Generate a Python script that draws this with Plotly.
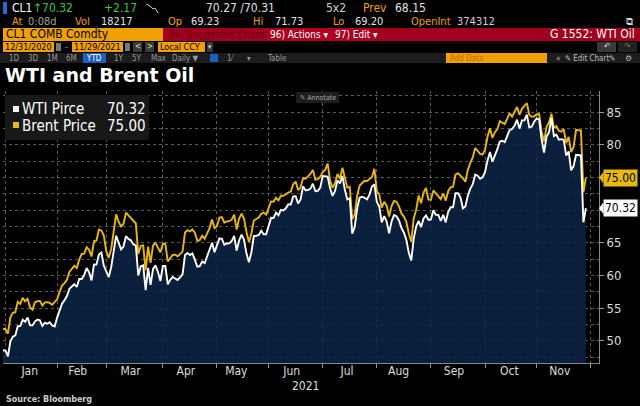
import pandas as pd
import plotly.graph_objects as go

# ---------------- data (daily, weekdays; holidays carry previous close) ----------------
dates = pd.bdate_range("2020-12-31", "2021-11-29")

wti = [48.52,
       # Jan
       48.52, 47.62, 49.93, 50.63, 50.83, 52.24, 52.25, 53.21, 52.91, 53.57, 52.36,
       52.36, 52.98, 53.24, 53.13, 52.27, 52.77, 52.61, 52.85, 52.34, 52.20,
       # Feb
       53.55, 54.76, 55.69, 56.23, 56.85, 57.97, 58.36, 58.68, 58.24, 59.47,
       59.47, 60.05, 61.14, 60.52, 59.24, 61.70, 61.67, 63.22, 63.53, 61.50,
       # Mar
       60.64, 59.75, 61.28, 63.83, 66.09, 65.05, 64.01, 64.44, 66.02, 65.61,
       65.39, 64.80, 64.60, 60.00, 61.42, 61.55, 57.76, 61.18, 58.56, 60.97,
       61.56, 60.55, 59.16,
       # Apr
       61.45, 61.45, 58.65, 59.33, 59.77, 59.60, 59.32, 59.70, 60.18, 63.15, 63.46,
       63.13, 63.38, 62.44, 61.35, 61.43, 62.14, 61.91, 62.94, 63.86, 65.01, 63.58,
       # May
       64.49, 65.69, 65.63, 64.71, 64.90, 64.92, 65.28, 66.08, 63.82, 65.37,
       66.27, 65.49, 63.36, 62.05, 63.58, 66.05, 66.07, 66.21, 66.85, 66.32, 66.32,
       # Jun
       67.72, 68.83, 68.81, 69.62, 69.23, 70.05, 69.96, 70.29, 70.91, 70.88, 72.12,
       72.15, 71.04, 71.64, 73.66, 73.06, 73.08, 73.30, 74.05, 72.91, 72.98, 73.47,
       # Jul
       75.23, 75.16, 75.16, 73.37, 72.20, 72.94, 74.56, 74.10, 75.25, 73.13, 71.65,
       71.81, 66.42, 67.42, 70.30, 71.91, 72.07, 71.91, 71.65, 72.39, 73.62, 73.95,
       # Aug
       71.26, 70.56, 68.15, 69.09, 68.28, 66.48, 68.29, 69.25, 69.09, 68.44, 67.29,
       66.59, 65.46, 63.50, 62.32, 65.64, 67.54, 68.36, 67.42, 68.74, 69.21, 68.50,
       # Sep
       68.59, 69.99, 69.29, 69.29, 68.35, 69.30, 68.14, 69.72, 70.45, 70.46, 72.61,
       72.61, 71.97, 70.29, 70.56, 72.23, 73.30, 73.98, 75.45, 75.29, 74.83, 75.03,
       # Oct
       75.88, 77.62, 78.93, 77.43, 78.30, 79.35, 80.52, 80.64, 80.44, 81.31, 82.28,
       82.44, 82.96, 83.87, 82.50, 83.76, 83.76, 84.65, 82.66, 82.81, 83.57,
       # Nov
       84.05, 83.91, 80.86, 78.81, 81.27, 81.93, 84.15, 81.34, 81.59, 80.79, 80.88,
       80.76, 78.36, 79.01, 76.10, 76.75, 78.50, 78.39, 78.39, 68.15, 70.32]

brent = [51.80,
         # Jan
         51.80, 51.09, 53.60, 54.30, 54.38, 55.99, 55.66, 56.58, 56.06, 56.42, 55.10,
         54.75, 55.90, 56.08, 56.10, 55.41, 55.88, 55.91, 55.81, 55.53, 55.88,
         # Feb
         56.35, 57.46, 58.46, 58.84, 59.34, 60.56, 61.09, 61.47, 61.14, 62.43,
         63.30, 63.35, 64.34, 63.93, 62.91, 65.24, 65.37, 67.04, 66.88, 66.13,
         # Mar
         63.69, 62.70, 64.07, 66.74, 69.36, 68.24, 67.52, 67.90, 69.63, 69.22,
         68.88, 68.39, 68.00, 63.28, 64.53, 64.62, 60.79, 64.41, 61.95, 64.57,
         64.98, 64.14, 63.54,
         # Apr
         64.86, 64.86, 62.15, 62.74, 63.16, 63.20, 62.95, 63.28, 63.67, 66.58, 66.94,
         66.77, 67.05, 66.57, 65.32, 65.40, 66.11, 65.65, 66.42, 67.27, 68.56, 67.25,
         # May
         67.56, 68.88, 68.96, 68.09, 68.28, 68.32, 68.55, 69.32, 67.05, 68.71,
         69.46, 68.71, 66.66, 65.11, 66.44, 68.46, 68.65, 68.87, 69.46, 69.63, 69.32,
         # Jun
         70.25, 71.35, 71.31, 71.89, 71.49, 72.22, 72.22, 72.52, 72.69, 72.86, 73.99,
         74.39, 73.08, 73.51, 74.90, 74.81, 75.19, 75.56, 76.18, 74.68, 74.76, 75.13,
         # Jul
         75.84, 76.17, 77.16, 74.53, 73.43, 74.12, 75.55, 74.83, 76.49, 74.76, 73.47,
         73.59, 68.62, 69.35, 72.23, 73.79, 74.10, 74.50, 74.48, 74.74, 75.05, 76.33,
         # Aug
         72.89, 72.41, 70.38, 71.29, 70.70, 69.04, 70.63, 71.44, 71.31, 70.59, 69.51,
         69.03, 68.23, 66.45, 65.18, 68.75, 70.05, 72.25, 71.07, 72.70, 73.41, 71.63,
         # Sep
         71.59, 73.03, 72.61, 72.22, 71.69, 72.60, 71.45, 72.92, 73.51, 73.60, 75.46,
         75.67, 75.34, 74.92, 74.36, 76.19, 77.25, 78.09, 79.53, 79.09, 78.64, 78.52,
         # Oct
         79.28, 81.26, 82.56, 81.08, 81.95, 82.39, 83.65, 83.42, 83.18, 84.00, 84.86,
         84.33, 85.08, 85.82, 84.61, 85.53, 85.99, 86.40, 84.58, 84.32, 84.38,
         # Nov
         84.71, 84.72, 81.99, 80.54, 82.74, 83.43, 84.78, 82.64, 82.87, 82.17, 82.05,
         82.43, 80.28, 81.24, 78.89, 79.70, 82.31, 82.25, 82.22, 72.72, 75.00]

series_names = ["WTI Pirce", "Brent Price"]
title_text = "WTI and Brent Oil"
year_label = "2021"
source_text = "Source: Bloomberg"
y_tick_values = [50, 55, 60, 65, 70, 75, 80, 85]

# ---------------- styling ----------------
W, H = 640, 406
ML, MR, MT, MB = 3, 41, 91, 43
PW, PH = W - ML - MR, H - MT - MB
NARROW = "Liberation Sans Narrow, DejaVu Sans Condensed, Roboto, sans-serif"
BOLD = "DejaVu Sans, Verdana, sans-serif"
ORANGE = "#f0a000"
YELLOW = "#e8b90c"
NAVY = "rgba(11,37,72,0.84)"
GRID = "#5a5a5a"


def px(x):
    return (x - ML) / PW


def py(y):
    return (H - MB - y) / PH


shapes = []
annotations = []


def rect(x0, y0, x1, y1, color):
    shapes.append(dict(type="rect", xref="paper", yref="paper",
                       x0=px(x0), x1=px(x1), y0=py(y1), y1=py(y0),
                       fillcolor=color, line=dict(width=0), layer="above"))


def text(x, y, s, color="#e0e0e0", size=11, anchor="left", family=NARROW):
    annotations.append(dict(xref="paper", yref="paper", x=px(x), y=py(y), text=s,
                            showarrow=False, xanchor=anchor, yanchor="middle",
                            borderpad=0,
                            font=dict(color=color, size=size, family=family)))


# Row 1
rect(3, 2, 7, 14, "#1f6fd6")
text(11, 7.5, "CL1", "#ffffff", 12)
text(32, 7.5, "↑70.32", "#36c943", 12)
text(103, 7.5, "+2.17", "#36c943", 12)
shapes.append(dict(type="path", xref="paper", yref="paper",
                   path=f"M {px(146)} {py(4)} L {px(150)} {py(6)} L {px(153)} {py(9)} L {px(155)} {py(8)} L {px(158)} {py(13)}",
                   line=dict(color="#cccccc", width=1)))
text(205, 7.5, "70.27 /70.31", "#e0e0e0", 12)
text(325, 7.5, "5x2", "#d0d0d0", 12)
text(362, 7.5, "Prev", ORANGE, 12)
text(394, 7.5, "68.15", "#e0e0e0", 12)
# Row 2
text(11, 21, "At", ORANGE, 11)
text(27, 21, "0:08d", "#a0a0a0", 11)
text(74, 21, "Vol", ORANGE, 11)
text(100, 21, "18217", "#e0e0e0", 11)
text(167, 21, "Op", ORANGE, 11)
text(190, 21, "69.23", "#e0e0e0", 11)
text(252, 21, "Hi", ORANGE, 11)
text(274, 21, "71.73", "#e0e0e0", 11)
text(332, 21, "Lo", ORANGE, 11)
text(354, 21, "69.20", "#e0e0e0", 11)
text(410, 21, "OpenInt", ORANGE, 11)
text(456, 21, "374312", "#d0d0d0", 11)
text(630, 21, "⧉", "#dddddd", 10, "center", BOLD)
# Row 3
rect(3, 28, 163, 41, ORANGE)
rect(163, 28, 640, 41, "#a3001e")
rect(266, 28, 331, 41, "#b0001f")
rect(332, 28, 377, 41, "#b0001f")
text(5, 34.5, "CL1 COMB Comdty", "#000000", 12)
text(168, 34.5, "96) Suggested Charts", "#6b0613", 10)
text(269, 34.5, "96) Actions ▾", "#ffffff", 10)
text(334, 34.5, "97) Edit ▾", "#ffffff", 10)
text(636, 34.5, "G 1552: WTI Oil", "#ffffff", 12, "right")
# Row 4
rect(3, 42, 54, 52, ORANGE)
text(4, 47, "12/31/2020", "#000000", 9)
rect(56, 43, 61, 51, "#777777")
text(64, 47, "-", "#aaaaaa", 9)
rect(72, 42, 123, 52, ORANGE)
text(73, 47, "11/29/2021", "#000000", 9)
rect(125, 43, 130, 51, "#777777")
rect(133, 42, 142, 52, "#3a3a3a")
text(137.5, 47, "<", "#dddddd", 8, "center")
rect(145, 42, 154, 52, "#3a3a3a")
text(149.5, 47, ">", "#dddddd", 8, "center")
rect(158, 42, 205, 52, ORANGE)
text(159, 47, "Local CCY", "#000000", 9)
rect(207, 42, 213, 52, "#3a3a3a")
text(210, 47, "▾", "#dddddd", 7, "center")
rect(597, 42, 616, 52, "#3a3a3a")
text(606.5, 47, "↶", "#dddddd", 8, "center", BOLD)
rect(618, 42, 637, 52, "#222222")
text(627.5, 47, "↷", "#777777", 8, "center", BOLD)
# Row 5
rect(0, 53, 640, 63, "#1c1c1c")
for lab, xx in [("1D", 8), ("3D", 27), ("1M", 46), ("6M", 65), ("1Y", 113),
                ("5Y", 131), ("Max", 150), ("Daily ▼", 171), ("1⁄", 226), ("▾", 246), ("Table", 266)]:
    text(xx, 58, lab, "#9a9a9a", 8)
rect(83, 53, 106, 63, "#1c5fc4")
text(94.5, 58, "YTD", "#ffffff", 8, "center")
rect(210, 54, 218, 62, "#1c5fc4")
rect(446, 53, 547, 63, ORANGE)
text(449, 58, "Add Data", "#c46800", 8)
text(555, 58, "«  ✎ Edit Chart", "#bbbbbb", 8)
text(612, 58, "✎", "#bbbbbb", 8, "center", BOLD)
text(628, 58, "⚙", "#bbbbbb", 8, "center", BOLD)

# Title
text(4, 75, "<b>" + title_text + "</b>", "#ffffff", 19, "left", "DejaVu Sans")

# Annotate button
rect(296, 92, 339, 103, "#1e1e1e")
text(299, 97.5, "✎ Annotate", "#aaaaaa", 7)

# Legend box
rect(5, 95, 149, 140, "#181818")
rect(13, 106, 19, 112, "#ffffff")
rect(13, 122, 19, 128, YELLOW)
text(21, 109, series_names[0], "#ffffff", 15)
text(106, 109, f"{wti[-1]:.2f}", "#ffffff", 15)
text(21, 126, series_names[1], "#ffffff", 15)
text(106, 126, f"{brent[-1]:.2f}", "#ffffff", 15)

# Bottom texts
text(305, 386, year_label, "#dddddd", 12, "center")
text(5, 399, "<b>" + source_text + "</b>", "#cccccc", 8, "left", "DejaVu Sans")

# Last-value labels on the right axis (they cover the nearby tick labels)
last_vals = [brent[-1], wti[-1]]
for val, col in [(brent[-1], YELLOW), (wti[-1], "#ffffff")]:
    annotations.append(dict(xref="paper", yref="y", x=px(603), y=val, text=f"{val:.2f}",
                            showarrow=False, xanchor="left", yanchor="middle",
                            bgcolor=col, borderpad=1,
                            font=dict(color="#000000", size=12, family=NARROW)))
    shapes.append(dict(type="path", xref="paper", yref="y",
                       path=f"M {px(599)} {val} L {px(603.5)} {val + 0.9} L {px(603.5)} {val - 0.9} Z",
                       fillcolor=col, line=dict(width=0), layer="above"))
y_tick_text = ["" if any(abs(t - v) < 2.0 for v in last_vals) else str(t) for t in y_tick_values]

# ---------------- figure ----------------
fig = go.Figure()
fig.add_trace(go.Scatter(x=dates, y=wti, mode="lines", line=dict(width=0, color="#ffffff"),
                         fill="tozeroy", fillcolor=NAVY, hoverinfo="skip", showlegend=False))
fig.add_trace(go.Scatter(x=dates, y=brent, mode="lines", name=series_names[1],
                         line=dict(color=YELLOW, width=1.9), showlegend=False))
fig.add_trace(go.Scatter(x=dates, y=wti, mode="lines", name=series_names[0],
                         line=dict(color="#ffffff", width=1.9), showlegend=False))

fig.update_layout(
    width=W, height=H,
    margin=dict(l=ML, r=MR, t=MT, b=MB),
    paper_bgcolor="#000000", plot_bgcolor="#000000",
    shapes=shapes, annotations=annotations,
    showlegend=False,
    xaxis=dict(type="date", range=["2020-12-31", "2021-12-06 08:00"],
               rangebreaks=[dict(bounds=["sat", "mon"])],
               dtick="M1", tick0="2021-01-01", ticklabelmode="period", tickformat="%b",
               ticks="outside", ticklen=4, tickcolor="#999999",
               ticklabelstandoff=-7, ticklabelshift=-4,
               showline=True, linecolor="#888888", linewidth=1,
               showgrid=True, gridcolor=GRID, griddash="dot", gridwidth=1,
               zeroline=False, fixedrange=True,
               tickfont=dict(color="#dddddd", size=12, family=NARROW)),
    yaxis=dict(range=[46.6, 88.26], side="right",
               tickmode="array", tickvals=y_tick_values, ticktext=y_tick_text,
               ticks="outside", ticklen=4, tickcolor="#999999",
               showline=True, linecolor="#888888", linewidth=1,
               showgrid=True, gridcolor=GRID, griddash="dot", gridwidth=1,
               minor=dict(dtick=2.5, tick0=0, showgrid=True, gridcolor=GRID, griddash="dot", ticks=""),
               zeroline=False, fixedrange=True,
               tickfont=dict(color="#dddddd", size=13, family=NARROW)),
)

fig.write_html("out.html", config={"displayModeBar": False},
               post_script="document.body.style.margin='0';document.body.style.background='#000';")
